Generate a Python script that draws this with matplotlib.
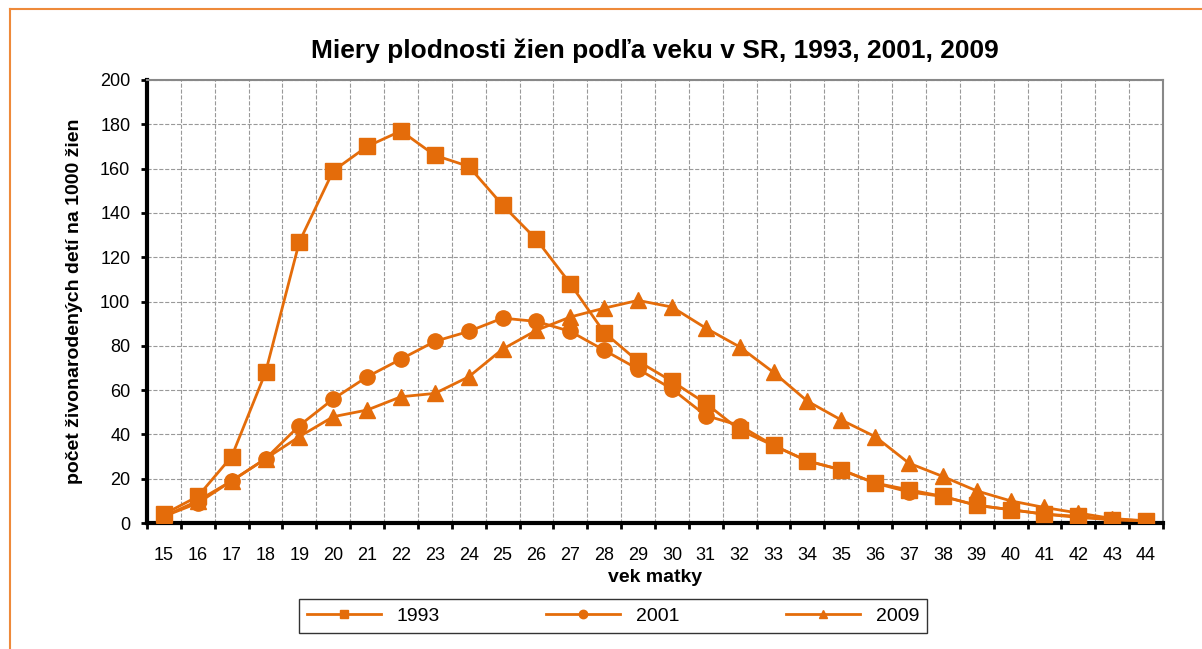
import numpy as np
import matplotlib.pyplot as plt
from matplotlib.lines import Line2D

plt.rcParams['font.family'] = ['Liberation Sans', 'DejaVu Sans']

# vek matky 15..44
vek = list(range(15, 45))

r1993 = [4, 12, 30, 68, 127, 159, 170, 177, 166, 161, 143.5, 128, 108, 86, 73,
         64, 54, 42, 35, 28, 24, 18, 15, 12, 8, 6, 4, 3, 1.5, 1]
r2001 = [3, 9, 19, 29, 44, 56, 66, 74, 82, 86.5, 92.5, 91, 86.5, 78, 69.5,
         60.5, 48.5, 44, 35, 28, 24, 18, 14, 12, 8, 6, 4, 2.5, 1.5, 1]
r2009 = [3, 10, 19, 29, 39, 48, 51, 57, 58.5, 66, 78.5, 87, 93, 97, 100.5,
         97.5, 88, 79.5, 68, 55, 46.5, 39, 27, 21, 14.5, 10, 7, 4.5, 2, 1]

ORANGE = '#E46C0A'

fig = plt.figure(figsize=(12.02, 6.49), dpi=100)
ax = fig.add_axes([147 / 1202, 1 - 523 / 649, (1163 - 147) / 1202, (523 - 80) / 649])

ax.plot(vek, r1993, color=ORANGE, lw=2, marker='s', ms=11, label='1993', zorder=3)
ax.plot(vek, r2001, color=ORANGE, lw=2, marker='o', ms=11, label='2001', zorder=3)
ax.plot(vek, r2009, color=ORANGE, lw=2, marker='^', ms=11, label='2009', zorder=3)

ax.set_xlim(14.5, 44.5)
ax.set_ylim(0, 200)
ax.set_xticks(vek)
ax.set_xticks(np.arange(14.5, 45, 1), minor=True)
ax.set_yticks(range(0, 201, 20))
ax.tick_params(axis='x', which='major', length=0, pad=17, labelsize=13)
ax.tick_params(axis='x', which='minor', length=4, width=2, direction='out')
ax.tick_params(axis='y', length=4, width=2, pad=8, labelsize=13)

ax.grid(True, axis='y', which='major', ls='--', color='#999999', lw=0.8)
ax.grid(True, axis='x', which='minor', ls='--', color='#999999', lw=0.8)

for s in ['top', 'right']:
    ax.spines[s].set_color('#888888')
    ax.spines[s].set_linewidth(1.5)
for s in ['left', 'bottom']:
    ax.spines[s].set_color('black')
    ax.spines[s].set_linewidth(3)

ax.set_title('Miery plodnosti žien podľa veku v SR, 1993, 2001, 2009',
             fontsize=19, fontweight='bold', pad=16)
ax.set_xlabel('vek matky', fontsize=14, fontweight='bold', labelpad=4)
ax.set_ylabel('počet živonarodených detí na 1000 žien', fontsize=14,
              fontweight='bold', labelpad=12)

leg = fig.legend(loc='center', bbox_to_anchor=(613 / 1202, 1 - 616 / 649), ncol=3,
                 fontsize=14, markerscale=0.55, handlelength=3.8, columnspacing=5.5,
                 frameon=True, fancybox=False, edgecolor='black', borderpad=0.4)
leg.get_frame().set_linewidth(1.0)

# orange outer frame
fig.add_artist(Line2D([10 / 1202, 1], [1 - 9 / 649, 1 - 9 / 649],
                      transform=fig.transFigure, color='#EE8A3A', lw=1.5))
fig.add_artist(Line2D([10 / 1202, 10 / 1202], [0, 1 - 9 / 649],
                      transform=fig.transFigure, color='#EE8A3A', lw=1.5))

fig.savefig('out.png', dpi=100)
